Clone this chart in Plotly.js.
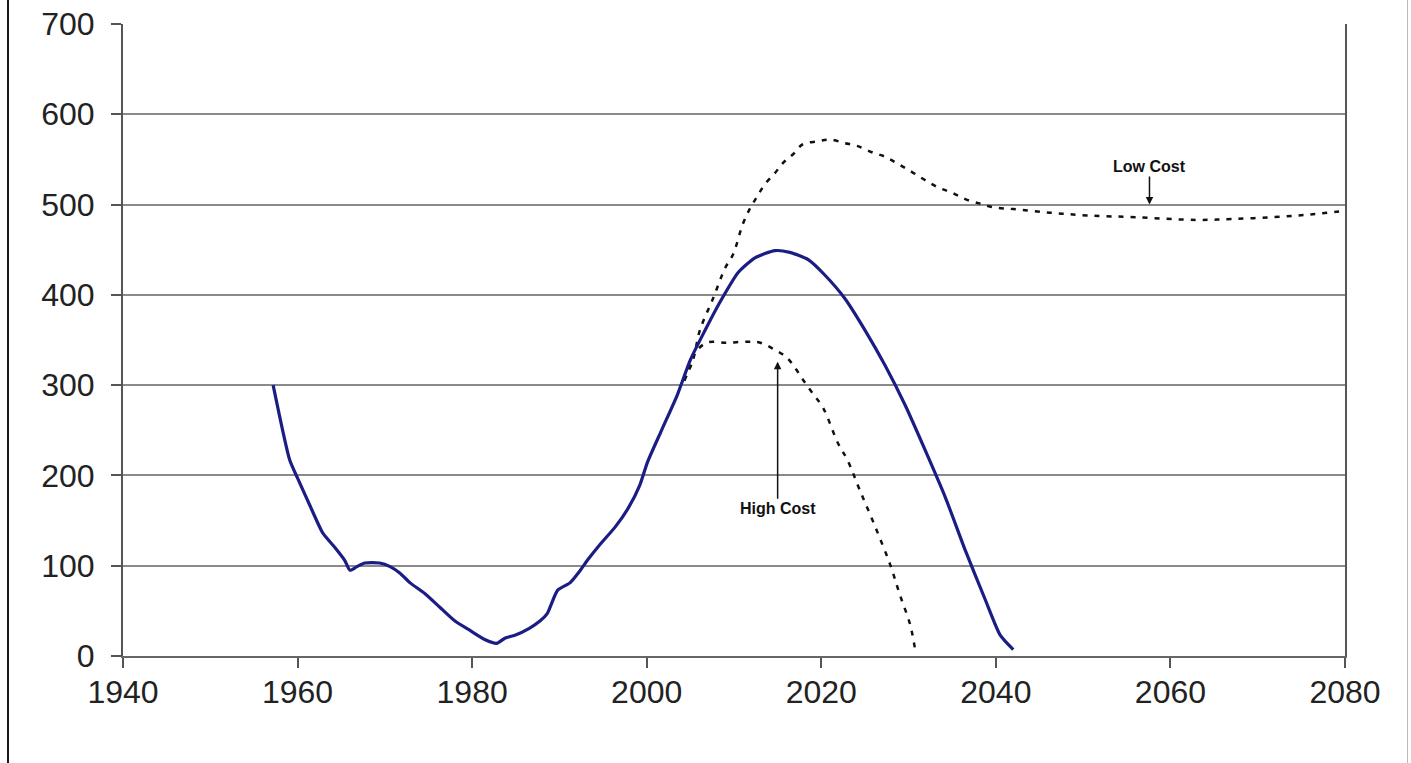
<!DOCTYPE html>
<html>
<head>
<meta charset="utf-8">
<script src="https://cdn.plot.ly/plotly-3.0.1.min.js"></script>
<style>
  html, body { margin: 0; padding: 0; background: #fff; overflow: hidden; }
  #chart { width: 1411px; height: 763px; }
  #lb { position: absolute; left: 7px; top: 0; width: 2px; height: 763px; background: #1a1a1a; }
  #rb { position: absolute; left: 1407px; top: 0; width: 1px; height: 763px; background: #bbb; }
</style>
</head>
<body>
<div id="chart"></div>
<div id="lb"></div>
<div id="rb"></div>
<script>
// Historical / base series (solid blue)
const baseYears = [1957.2, 1959.1, 1960, 1961.4, 1962.9, 1964.3, 1965.4, 1966, 1966.8, 1967.7, 1969.4, 1970.6, 1971.7, 1972.9, 1974.6, 1976.3, 1978, 1979.8, 1981.5, 1982.8, 1983.8, 1984.9, 1986.6, 1987.8, 1988.6, 1989.8, 1991.2, 1992.4, 1993.2, 1994.6, 1996.4, 1997.9, 1999.2, 2000.1, 2001.7, 2003.5, 2005, 2006.7, 2008.4, 2010.5, 2012.4, 2014.7, 2016.4, 2018.5, 2020.4, 2022.7, 2025, 2027.3, 2029.6, 2031.9, 2034.2, 2036.5, 2038.8, 2040.5, 2042];
const baseValues = [300, 217, 197, 167, 136, 120, 106, 95, 99, 103, 103, 99, 92, 81, 69, 54, 39, 28, 18, 14, 20, 23, 31, 39, 47, 73, 81, 95, 106, 123, 143, 164, 189, 215, 250, 289, 328, 361, 392, 425, 441, 449, 447, 439, 422, 396, 361, 322, 278, 228, 176, 117, 62, 23, 7];

// Low cost scenario (dotted)
const lowYears = [2004.3, 2005.3, 2006.1, 2007.6, 2009, 2009.9, 2011, 2011.9, 2012.6, 2013.5, 2014.7, 2015.6, 2016.8, 2017.9, 2019.6, 2021, 2022.7, 2024.1, 2025.8, 2027.3, 2028.8, 2030.4, 2031.9, 2033.4, 2035, 2036.5, 2038.2, 2039.7, 2042, 2046.2, 2050.4, 2056, 2063, 2067, 2071.7, 2076, 2080];
const lowValues = [305, 328, 361, 396, 430, 445, 478, 497, 508, 522, 535, 546, 556, 567, 570, 572, 568, 565, 558, 553, 545, 536, 527, 519, 513, 506, 501, 497, 495, 491, 488, 486, 483, 484, 486, 489, 493];

// High cost scenario (dotted)
const highYears = [2004.3, 2005.5, 2006.9, 2009.2, 2011.5, 2013, 2014.7, 2016, 2017, 2017.9, 2019, 2020.2, 2021.9, 2023, 2024.4, 2026.1, 2027.9, 2029, 2030.2, 2030.8];
const highValues = [305, 335, 347, 347, 348, 347, 339, 331, 319, 306, 291, 275, 236, 217, 184, 145, 101, 68, 34, 4];

const xTicks = [1940, 1960, 1980, 2000, 2020, 2040, 2060, 2080];
const yTicks = [0, 100, 200, 300, 400, 500, 600, 700];

const labels = [
  {text: 'High Cost', x: 2015, y: 326, ax: 0, ay: 147},
  {text: 'Low Cost', x: 2057.6, y: 500, ax: 0, ay: -38}
];

const traces = [
  {x: highYears, y: highValues, mode: 'lines', line: {color: '#111', width: 2.5, dash: '5px,7px', shape: 'spline'}, hoverinfo: 'skip'},
  {x: lowYears, y: lowValues, mode: 'lines', line: {color: '#111', width: 2.5, dash: '5px,7px', shape: 'spline'}, hoverinfo: 'skip'},
  {x: baseYears, y: baseValues, mode: 'lines', line: {color: '#1c1c85', width: 3.2, shape: 'spline', smoothing: 0.6}, hoverinfo: 'skip'}
];

const tickFont = {family: 'Liberation Sans, Arial, sans-serif', size: 32, color: '#222'};

const layout = {
  width: 1411, height: 763,
  margin: {l: 123, r: 66, t: 24, b: 107},
  paper_bgcolor: '#fff', plot_bgcolor: '#fff',
  showlegend: false,
  xaxis: {
    range: [1940, 2080], tickvals: xTicks, ticktext: xTicks.map(String),
    showgrid: false, zeroline: false,
    showline: true, linecolor: '#666', linewidth: 2,
    ticks: 'outside', ticklen: 10, tickwidth: 2, tickcolor: '#555',
    ticklabelstandoff: -3,
    tickfont: tickFont
  },
  yaxis: {
    range: [0, 700], tickvals: yTicks, ticktext: yTicks.map(String),
    showgrid: true, gridcolor: '#8a8a8a', gridwidth: 2,
    zeroline: false,
    showline: true, linecolor: '#555', linewidth: 2, mirror: true,
    ticks: 'outside', ticklen: 10, tickwidth: 2, tickcolor: '#555',
    ticklabelstandoff: 10,
    tickfont: tickFont
  },
  annotations: labels.map(l => ({
    x: l.x, y: l.y, xref: 'x', yref: 'y', text: l.text,
    showarrow: true, arrowhead: 2, arrowsize: 1, arrowwidth: 1.5, arrowcolor: '#111',
    ax: l.ax, ay: l.ay,
    font: {family: 'Liberation Sans Narrow, Liberation Sans, Arial, sans-serif', size: 16, color: '#111', weight: 'bold'}
  }))
};

Plotly.newPlot('chart', traces, layout, {staticPlot: true});
</script>
</body>
</html>
